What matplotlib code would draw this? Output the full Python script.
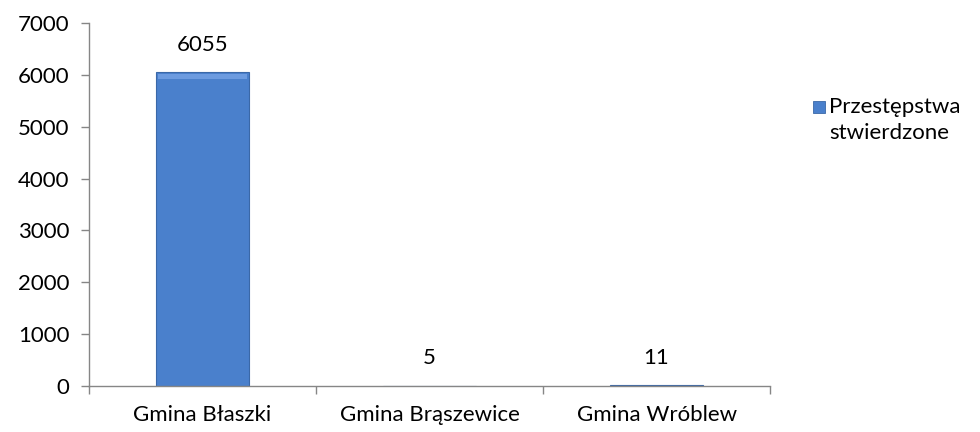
import matplotlib.pyplot as plt
import matplotlib.patches as mpatches
import numpy as np

plt.rcParams['font.family'] = ['Lato', 'DejaVu Sans']

categories = ['Gmina Błaszki', 'Gmina Brąszewice', 'Gmina Wróblew']
values = [6055, 5, 11]
yticks = [0, 1000, 2000, 3000, 4000, 5000, 6000, 7000]
legend_label = 'Przestępstwa\nstwierdzone'

fs = 16
fig = plt.figure(figsize=(9.8, 4.32), dpi=100)
ax = fig.add_axes([0.0908, 0.1065, 0.695, 0.8403])

x = np.arange(len(categories))
bars = ax.bar(x, values, width=0.41, color='#4a80cc', edgecolor='#3a68a8', linewidth=0.8)

# light bevel along the top of each bar
for b in bars:
    if b.get_height() > 200:
        ax.add_patch(mpatches.Rectangle((b.get_x() + 0.01, b.get_height() - 130),
                                        b.get_width() - 0.02, 100,
                                        facecolor='#6c9be0', edgecolor='none'))

for xi, v in zip(x, values):
    ax.text(xi, v + 530, str(v), ha='center', va='center', fontsize=fs)

ax.set_xlim(-0.5, len(categories) - 0.5)
ax.set_ylim(0, 7000)
ax.set_yticks(yticks)
ax.set_xticks(x)
ax.set_xticklabels(categories)
ax.set_xticks(np.arange(-0.5, len(categories)), minor=True)

ax.tick_params(axis='x', which='major', length=0, pad=14, labelsize=fs)
ax.tick_params(axis='x', which='minor', length=6, color='#868686', width=1)
ax.tick_params(axis='y', length=6, color='#868686', width=1, pad=8, labelsize=fs)

for s in ['top', 'right']:
    ax.spines[s].set_visible(False)
for s in ['left', 'bottom']:
    ax.spines[s].set_color('#868686')
    ax.spines[s].set_linewidth(1)

# legend
fig.patches.append(mpatches.Rectangle((813 / 980, 1 - 113 / 432), 12 / 980, 12 / 432,
                                      transform=fig.transFigure, facecolor='#4a80cc',
                                      edgecolor='#3a68a8', linewidth=0.6))
fig.text(829 / 980, 1 - 120 / 432, legend_label, ha='left', va='center',
         fontsize=fs, linespacing=1.4)

fig.savefig('out.png', dpi=100)
